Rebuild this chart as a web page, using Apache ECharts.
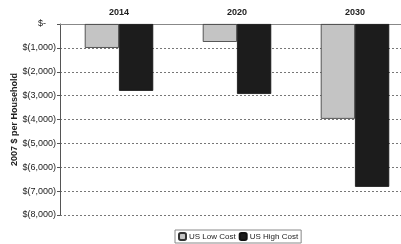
<!DOCTYPE html>
<html>
<head>
<meta charset="utf-8">
<script src="https://cdn.jsdelivr.net/npm/echarts@6/dist/echarts.min.js"></script>
<style>
  html, body { margin: 0; padding: 0; background: #fff; }
  #chart { width: 401px; height: 244px; }
</style>
</head>
<body>
<div id="chart"></div>
<script>
// values (2007 $ per household)
var years = ["2014", "2020", "2030"];
var lowCost = [-1000, -750, -3970];
var highCost = [-2800, -2930, -6820];
var yTicks = [0, -1000, -2000, -3000, -4000, -5000, -6000, -7000, -8000];

var chart = echarts.init(document.getElementById("chart"));

function money(v) {
  if (v === 0) return "$-    ";
  return "$(" + Math.abs(v).toLocaleString("en-US") + ")";
}

chart.setOption({
  animation: false,
  textStyle: { fontFamily: "Liberation Sans, Arial, sans-serif" },
  grid: { left: 60, right: -13, top: 24, bottom: 29, containLabel: false, outerBoundsMode: "none" },
  legend: {
    bottom: 1,
    left: 175,
    itemWidth: 7,
    itemHeight: 7,
    itemGap: 3,
    padding: [2, 3],
    borderColor: "#888",
    borderWidth: 1,
    textStyle: { fontSize: 8, color: "#222", padding: [0, 0, 0, -2] },
    data: ["US Low Cost", "US High Cost"]
  },
  xAxis: {
    type: "category",
    position: "top",
    data: years,
    axisLine: { show: true, lineStyle: { color: "#888" } },
    axisTick: { show: false },
    axisLabel: { fontSize: 9, fontWeight: "bold", color: "#222", margin: 7 }
  },
  yAxis: {
    type: "value",
    min: -8000,
    max: 0,
    interval: 1000,
    name: "2007 $ per Household",
    nameLocation: "middle",
    nameGap: 41,
    nameMoveOverlap: false,
    nameTextStyle: { fontSize: 9, fontWeight: "bold", color: "#222" },
    axisLine: { show: true, lineStyle: { color: "#555" } },
    axisTick: { show: true, length: 3, lineStyle: { color: "#555" } },
    axisLabel: {
      fontSize: 9,
      color: "#222",
      margin: 4,
      formatter: money
    },
    splitLine: { show: true, lineStyle: { color: "#777", type: [2, 2], width: 1 } }
  },
  series: [
    {
      name: "US Low Cost",
      type: "bar",
      data: lowCost,
      barGap: "0%",
      barCategoryGap: "42%",
      itemStyle: { color: "#c4c4c4", borderColor: "#333", borderWidth: 0.8 }
    },
    {
      name: "US High Cost",
      type: "bar",
      data: highCost,
      itemStyle: { color: "#1c1c1c", borderColor: "#111", borderWidth: 0.8 }
    }
  ]
});
</script>
</body>
</html>
